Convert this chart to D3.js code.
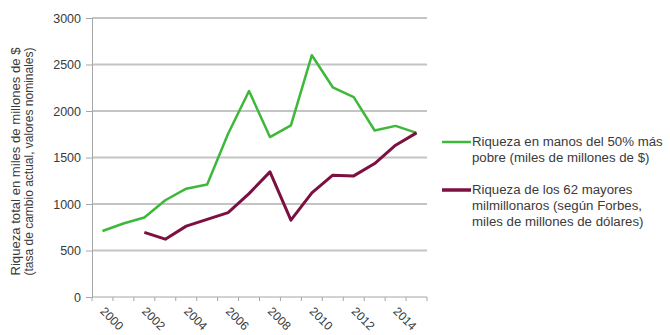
<!DOCTYPE html>
<html>
<head>
<meta charset="utf-8">
<script src="https://cdn.jsdelivr.net/npm/d3@7"></script>
<style>
  body { margin: 0; background: #fff; }
  svg { font-family: "Liberation Sans", Arial, sans-serif; }
</style>
</head>
<body>
<svg id="chart" width="670" height="335"></svg>
<script>
const years = d3.range(2000, 2016)
const yTicks = [0, 500, 1000, 1500, 2000, 2500, 3000]
const xLabels = [2000, 2002, 2004, 2006, 2008, 2010, 2012, 2014]

// riqueza del 50% más pobre (2000-2015)
const poorest = [710, 790, 855, 1040, 1165, 1210, 1755, 2215, 1720, 1845, 2600, 2255, 2150, 1790, 1840, 1765]
// 62 mayores milmillonarios (2002-2015), null antes
const richest = [null, null, 695, 622, 762, 834, 908, 1112, 1345, 826, 1120, 1310, 1302, 1435, 1632, 1765]

const green = "#3db83a"
const purple = "#7d1040"
const textColor = "#3a3a3a"

const plotLeft = 92, plotRight = 427, plotTop = 18, plotBottom = 297

const svg = d3.select("#chart")

const x = d3.scaleBand()
    .domain(years)
    .range([plotLeft, plotRight])

const y = d3.scaleLinear()
    .domain([0, 3000])
    .range([plotBottom, plotTop])

// gridlines
const grid = svg.append("g").attr("class", "grid")
grid.selectAll("line")
    .data(yTicks.filter(d => d > 0))
    .join("line")
    .attr("x1", plotLeft)
    .attr("x2", plotRight)
    .attr("y1", d => y(d))
    .attr("y2", d => y(d))
    .style("stroke", "#c4c4c4")
    .style("stroke-width", "2px")

// y axis
const yAxis = svg.append("g")
    .attr("transform", `translate(${plotLeft},0)`)
    .call(d3.axisLeft(y).tickValues(yTicks).tickFormat(d3.format("d")).tickSize(6).tickPadding(5))
yAxis.select(".domain").attr("stroke", "#a6a6a6")
yAxis.selectAll(".tick line").attr("stroke", "#a6a6a6")
yAxis.selectAll("text")
    .attr("fill", textColor)
    .style("font-size", "12.5px")
    .style("font-family", "Liberation Sans, Arial, sans-serif")

// x axis, ticks between categories
const xg = svg.append("g")
xg.append("line")
    .attr("x1", plotLeft).attr("x2", plotRight)
    .attr("y1", plotBottom).attr("y2", plotBottom)
    .attr("stroke", "#a6a6a6")
xg.selectAll("line.tk")
    .data(years.concat([null]))
    .enter()
    .append("line")
    .attr("class", "tk")
    .attr("x1", (d, i) => plotLeft + i * x.bandwidth())
    .attr("x2", (d, i) => plotLeft + i * x.bandwidth())
    .attr("y1", plotBottom)
    .attr("y2", plotBottom + 4)
    .attr("stroke", "#a6a6a6")
xg.selectAll("text")
    .data(xLabels)
    .enter()
    .append("text")
    .attr("transform", d => `translate(${x(d) + x.bandwidth() / 2},${plotBottom + 12}) rotate(45)`)
    .attr("dy", "0.35em")
    .attr("fill", textColor)
    .style("font-size", "12px")
    .text(d => d)

// y title
const yt = svg.append("text")
    .attr("transform", `translate(20,${(plotTop + plotBottom) / 2 + 4}) rotate(-90)`)
    .attr("text-anchor", "middle")
    .attr("fill", textColor)
    .style("font-size", "12.5px")
yt.append("tspan").attr("x", 0).attr("dy", "0em")
    .attr("textLength", 228).attr("lengthAdjust", "spacingAndGlyphs")
    .text("Riqueza total en miles de millones de $")
yt.append("tspan").attr("x", 0).attr("dy", "1.0em")
    .attr("textLength", 228).attr("lengthAdjust", "spacingAndGlyphs")
    .text("(tasa de cambio actual, valores nominales)")

// lines
const line = d3.line()
    .defined(d => d.v != null)
    .x(d => x(d.year) + x.bandwidth() / 2)
    .y(d => y(d.v))

const series = [
    { values: poorest, color: green, width: 2.5 },
    { values: richest, color: purple, width: 3 }
]

svg.append("g")
    .selectAll("path")
    .data(series)
    .enter()
    .append("path")
    .attr("fill", "none")
    .attr("stroke", d => d.color)
    .attr("stroke-width", d => d.width)
    .attr("stroke-linejoin", "round")
    .attr("d", d => line(years.map((yr, i) => ({ year: yr, v: d.values[i] }))))

// legend
const legend = [
    { color: green, width: 2.5, y: 142, lines: ["Riqueza en manos del 50% más", "pobre (miles de millones de $)"] },
    { color: purple, width: 3.5, y: 190, lines: ["Riqueza de los 62 mayores", "milmillonaros (según Forbes,", "miles de millones de dólares)"] }
]
const lg = svg.append("g")
    .selectAll("g")
    .data(legend)
    .enter()
    .append("g")
lg.append("line")
    .attr("x1", 442).attr("x2", 471)
    .attr("y1", d => d.y).attr("y2", d => d.y)
    .attr("stroke", d => d.color)
    .attr("stroke-width", d => d.width)
const lt = lg.append("text")
    .attr("transform", d => `translate(472,${d.y}) scale(1.06,1)`)
    .attr("fill", textColor)
    .style("font-size", "12.5px")
lt.selectAll("tspan")
    .data(d => d.lines)
    .enter()
    .append("tspan")
    .attr("x", 0)
    .attr("y", (d, i) => i * 16)
    .attr("dy", "0.35em")
    .text(d => d)
</script>
</body>
</html>
